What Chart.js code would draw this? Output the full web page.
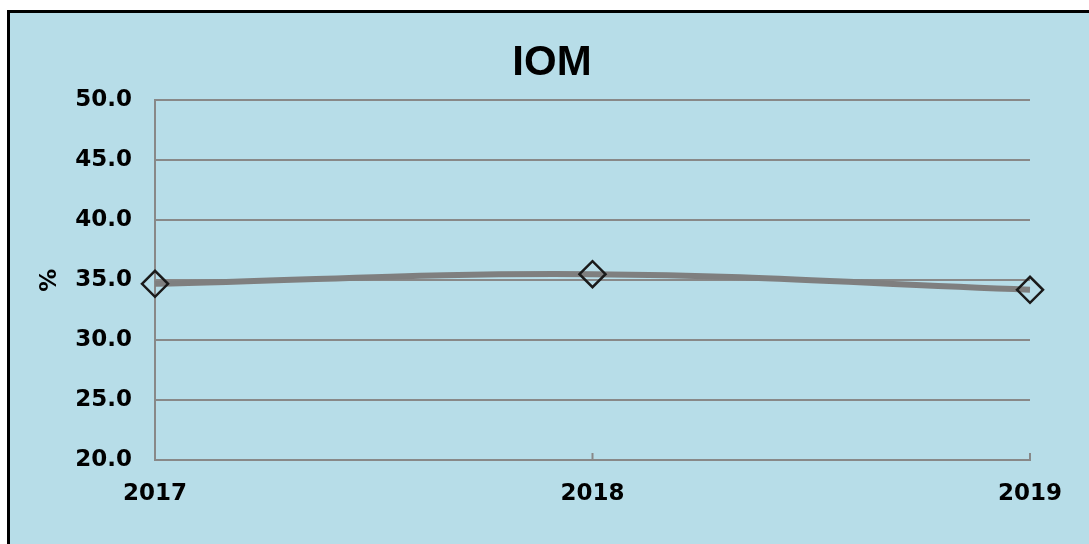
<!DOCTYPE html>
<html>
<head>
<meta charset="utf-8">
<script src="https://cdn.jsdelivr.net/npm/chart.js@4"></script>
<style>
    html, body { margin: 0; padding: 0; background: #ffffff; overflow: hidden; }
    .frame {
        position: absolute; left: 7px; top: 10px; width: 1100px; height: 560px;
        border: 3px solid #000000; background: #b7dde8;
    }
    .wrap { position: absolute; left: 0; top: 0; width: 1089px; height: 544px; }
</style>
</head>
<body>
<div class="frame"></div>
<div class="wrap"><canvas id="chart"></canvas></div>
<script>
    // chart data
    const years = ['2017', '2018', '2019'];
    const iomValues = [34.7, 35.5, 34.2];
    const yMin = 20;
    const yMax = 50;
    const yStep = 5;

    const gridGray = '#888888';
    const tickFont = { family: 'DejaVu Sans', size: 23, weight: 'bold' };

    // small upward tick marks on the category axis
    const innerTicks = {
        id: 'innerTicks',
        afterDraw(chart) {
            const x = chart.scales.x;
            const ctx = chart.ctx;
            ctx.save();
            ctx.strokeStyle = gridGray;
            ctx.lineWidth = 2;
            x.ticks.forEach((t, i) => {
                if (i === 0) return;
                const px = x.getPixelForTick(i);
                ctx.beginPath();
                ctx.moveTo(px, x.top);
                ctx.lineTo(px, x.top - 7);
                ctx.stroke();
            });
            ctx.restore();
        }
    };

    new Chart(document.getElementById('chart'), {
        type: 'line',
        data: {
            labels: years,
            datasets: [{
                label: 'IOM',
                data: iomValues,
                borderColor: '#7f7f7f',
                borderWidth: 6,
                tension: 0.4,
                pointStyle: 'rectRot',
                pointRadius: 13,
                pointHoverRadius: 13,
                pointBorderColor: '#1a1a1a',
                pointBorderWidth: 2.5,
                pointBackgroundColor: 'rgba(0,0,0,0)'
            }]
        },
        options: {
            responsive: true,
            maintainAspectRatio: false,
            animation: false,
            layout: {
                padding: { left: 74, right: 59, top: 0, bottom: 0 }
            },
            plugins: {
                legend: { display: false },
                tooltip: { enabled: false },
                title: {
                    display: true,
                    text: 'IOM',
                    color: '#000000',
                    font: { family: 'Liberation Sans', size: 42, weight: 'bold' },
                    padding: { top: 38, bottom: 12 }
                }
            },
            scales: {
                x: {
                    grid: { display: false },
                    border: { display: true, color: gridGray, width: 2 },
                    ticks: { color: '#000000', font: tickFont, padding: 12, maxRotation: 0 },
                    afterFit(scale) { scale.height = 84; }
                },
                y: {
                    min: yMin,
                    max: yMax,
                    grid: { color: gridGray, lineWidth: 2, drawTicks: false },
                    border: { display: true, color: gridGray, width: 2 },
                    ticks: {
                        stepSize: yStep,
                        color: '#000000',
                        font: tickFont,
                        padding: 23,
                        callback: (v) => v.toFixed(1)
                    },
                    title: {
                        display: true,
                        text: '%',
                        color: '#000000',
                        font: { family: 'DejaVu Sans', size: 23, weight: 'bold' },
                        padding: { top: -38, bottom: 0 }
                    },
                    afterFit(scale) { scale.width = 81; }
                }
            }
        },
        plugins: [innerTicks]
    });
</script>
</body>
</html>
